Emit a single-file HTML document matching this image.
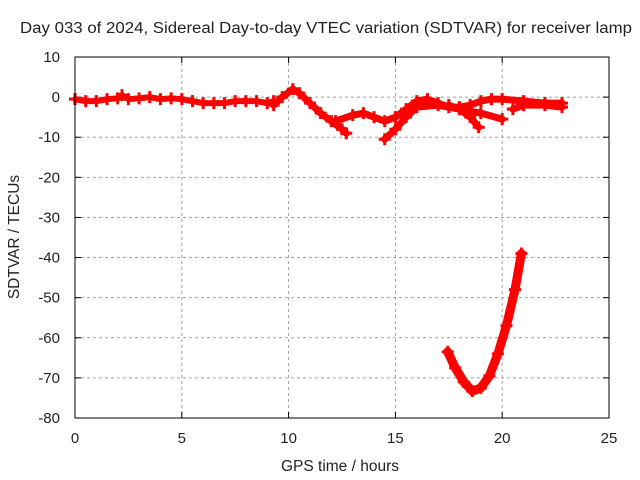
<!DOCTYPE html>
<html><head><meta charset="utf-8"><style>
body{margin:0;background:#fff}
svg{display:block;font-family:"Liberation Sans",sans-serif}
</style></head><body>
<svg width="640" height="480" viewBox="0 0 640 480">
<rect width="640" height="480" fill="#fff"/>
<text x="326" y="33" text-anchor="middle" font-size="15.5" textLength="612" lengthAdjust="spacingAndGlyphs" fill="#222">Day 033 of 2024, Sidereal Day-to-day VTEC variation (SDTVAR) for receiver lamp</text>
<g id="grid"></g>
<g id="ticks"></g>
<g id="series"></g>
<rect x="75" y="57" width="534" height="361" fill="none" stroke="#000" stroke-width="1"/>
<text x="19" y="237" text-anchor="middle" font-size="15.5" fill="#222" transform="rotate(-90 19 237)">SDTVAR / TECUs</text>
<text x="340" y="471" text-anchor="middle" font-size="15.5" fill="#222">GPS time / hours</text>
</svg>
<script>
const xTicks=[0,5,10,15,20,25];
const yTicks=[10,0,-10,-20,-30,-40,-50,-60,-70,-80];
const seriesA=[[0,-0.5],[0.5,-1],[1,-1],[1.5,-0.5],[2,-0.3],[2.2,0.5],[2.5,-0.5],[3,-0.3],[3.5,0],[4,-0.5],[4.5,-0.3],[5,-0.5],[5.5,-1],[6,-1.5],[6.5,-1.5],[7,-1.5],[7.5,-1],[8,-1],[8.5,-1],[9,-1.5],[9.3,-1]];
const seriesB=[[9.3,-2],[9.7,0],[10.2,2],[10.5,1],[11,-1.5],[11.5,-4],[12,-6],[12.5,-8],[12.7,-9]];
const seriesC=[[12.2,-6],[13,-4.5],[13.5,-4],[14,-5],[14.5,-6],[15,-5],[15.5,-3],[16,-1],[16.5,-0.5],[17,-1.5],[17.5,-2.5],[18,-2.5],[18.5,-2],[19,-1],[19.5,-0.5],[20,-0.5],[21,-1],[22,-1.5],[22.8,-1.5]];
const seriesD=[[14.5,-10.5],[15,-8],[15.5,-5],[16,-2.5],[17,-2],[18,-3],[19,-4],[20,-5.5]];
const seriesE=[[17.5,-2],[18,-3],[18.5,-5],[18.9,-7.5]];
const seriesF=[[20.5,-3],[21,-2],[22,-2],[22.8,-2.5]];
const seriesG=[[17.45,-63.5],[17.8,-67.5],[18.2,-71],[18.6,-73.3],[19.0,-72.5],[19.4,-69.5],[19.8,-64],[20.2,-57],[20.6,-48],[20.9,-39]];
const NS="http://www.w3.org/2000/svg";
const X=h=>75+h*534/25, Y=v=>57+(10-v)*361/90;
function mk(tag,at,parent){const e=document.createElementNS(NS,tag);for(const k in at)e.setAttribute(k,at[k]);parent.appendChild(e);return e;}
const grid=document.getElementById('grid'),ticks=document.getElementById('ticks'),ser=document.getElementById('series');
xTicks.forEach(t=>{
 if(t>0&&t<25){const l=mk('line',{x1:X(t),x2:X(t),y1:57,y2:418,stroke:'#a0a0a0','stroke-dasharray':'3,3'},grid);
 
 }
 const tl=mk('line',{x1:X(t),x2:X(t),y1:418,y2:412,stroke:'#000'},ticks);
 
 
 const tt=mk('line',{x1:X(t),x2:X(t),y1:57,y2:63,stroke:'#000'},ticks);
 
 
 const tx=mk('text',{x:X(t),y:443,'text-anchor':'middle','font-size':'15',fill:'#222'},ticks);tx.textContent=t;
 
 
});
yTicks.forEach(t=>{
 if(t<10&&t>-80){const l=mk('line',{x1:75,x2:609,y1:Y(t),y2:Y(t),stroke:'#a0a0a0','stroke-dasharray':'3,3'},grid);
 
 }
 const tl=mk('line',{x1:75,x2:81,y1:Y(t),y2:Y(t),stroke:'#000'},ticks);
 
 
 const tr=mk('line',{x1:603,x2:609,y1:Y(t),y2:Y(t),stroke:'#000'},ticks);
 
 
 const tx=mk('text',{x:60,y:Y(t)+5,'text-anchor':'end','font-size':'15',fill:'#222'},ticks);tx.textContent=t;
 
 
});
[seriesA,seriesB,seriesC,seriesD,seriesE,seriesF,seriesG].forEach((s,i)=>{
 const w=(i===0)?6:(i===6?9:7);
 const p=mk('polyline',{points:s.map(d=>X(d[0])+','+Y(d[1])).join(' '),fill:'none',stroke:'#f00','stroke-width':w,'stroke-linejoin':'round','stroke-linecap':'round'},ser);
 
 
 s.forEach(d=>{
  const m=mk('path',{d:`M${X(d[0])-6},${Y(d[1])}h12M${X(d[0])},${Y(d[1])-6}v12`,stroke:'#f00','stroke-width':3},ser);
  
  
 });
});
</script>
</body></html>
